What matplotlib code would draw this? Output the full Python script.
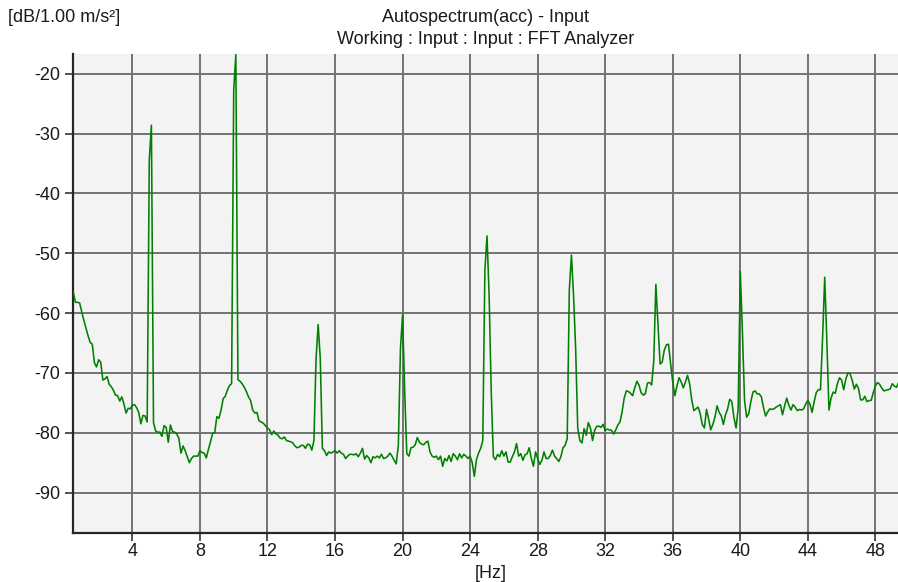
import numpy as np
import matplotlib
matplotlib.use("Agg")
import matplotlib.pyplot as plt

# FFT analyzer autospectrum, 0.125 Hz bins starting at 0.5 Hz
freq_start_hz = 0.5
freq_step_hz = 0.125

# one row per Hz (first and last rows are partial)
level_db = [
    -56.5, -58.2, -58.2, -58.3,
    -59.8, -61.2, -62.5, -63.8, -64.9, -65.2, -68.3, -69.0,
    -67.8, -68.2, -71.2, -71.0, -70.6, -71.9, -72.3, -72.9,
    -73.7, -73.8, -74.7, -74.0, -75.2, -76.7, -75.9, -76.0,
    -75.4, -75.3, -75.8, -76.6, -78.5, -77.1, -77.2, -78.2,
    -34.4, -28.6, -78.3, -79.7, -79.9, -79.9, -80.6, -78.8,
    -79.1, -81.6, -78.7, -79.8, -79.9, -80.2, -80.9, -83.4,
    -82.2, -83.0, -84.0, -85.0, -84.3, -83.9, -83.9, -83.9,
    -83.0, -83.3, -83.4, -84.2, -82.8, -81.5, -80.1, -80.0,
    -77.3, -77.6, -76.2, -74.3, -73.9, -72.9, -72.1, -71.8,
    -22.7, -16.8, -71.1, -71.4, -71.8, -72.4, -73.1, -74.0,
    -74.6, -76.2, -76.7, -76.6, -78.0, -78.2, -78.4, -78.8,
    -79.2, -79.5, -80.3, -79.7, -80.2, -80.4, -80.9, -81.0,
    -80.7, -81.3, -81.4, -81.5, -81.7, -82.2, -82.5, -82.4,
    -82.1, -82.1, -82.6, -81.9, -82.0, -82.9, -81.3, -67.8,
    -61.9, -67.5, -82.6, -83.0, -83.8, -83.2, -83.4, -83.2,
    -83.0, -83.4, -83.0, -83.4, -83.6, -84.3, -83.9, -83.6,
    -83.6, -83.7, -83.5, -84.0, -83.4, -82.6, -84.4, -83.8,
    -84.2, -85.0, -84.0, -84.2, -83.9, -84.2, -83.6, -84.3,
    -84.2, -83.9, -83.4, -83.9, -84.6, -85.2, -82.0, -65.9,
    -60.3, -73.0, -83.5, -83.9, -82.5, -82.4, -82.0, -80.8,
    -81.6, -81.9, -82.0, -81.6, -81.4, -83.2, -83.9, -84.1,
    -83.9, -84.5, -83.9, -85.6, -84.3, -84.7, -83.8, -84.8,
    -83.5, -83.9, -84.5, -83.5, -84.2, -83.6, -83.9, -84.3,
    -83.9, -85.0, -87.3, -84.5, -83.4, -82.6, -81.3, -52.8,
    -47.1, -57.0, -73.0, -84.0, -84.5, -83.6, -84.0, -83.0,
    -83.9, -83.2, -84.9, -84.9, -84.0, -83.2, -81.8, -83.9,
    -83.5, -84.6, -83.7, -83.5, -82.5, -84.3, -85.6, -83.2,
    -84.3, -85.3, -84.6, -83.2, -84.3, -84.3, -83.8, -82.9,
    -83.9, -84.3, -84.8, -84.0, -82.5, -82.1, -81.0, -56.1,
    -50.3, -57.0, -66.0, -79.3, -81.3, -81.7, -79.3, -80.4,
    -78.3, -79.2, -81.3, -79.6, -78.9, -78.9, -79.1, -78.6,
    -79.6, -79.4, -79.5, -79.6, -80.2, -79.5, -78.7, -78.2,
    -76.5, -74.2, -73.0, -73.1, -73.4, -73.8, -72.5, -71.4,
    -72.0, -73.3, -73.7, -73.5, -71.7, -71.6, -72.0, -68.0,
    -55.2, -62.0, -68.5, -68.2, -66.2, -65.3, -65.2, -68.5,
    -71.5, -73.8, -72.2, -70.8, -71.5, -72.5, -71.5, -70.4,
    -71.8, -74.5, -76.3, -76.0, -75.7, -76.8, -78.6, -79.2,
    -76.1, -77.7, -79.5, -78.6, -77.4, -75.5, -76.6, -77.2,
    -78.6, -77.0, -76.0, -74.4, -74.8, -77.5, -79.2, -76.0,
    -53.0, -63.0, -74.5, -77.4, -76.8, -74.8, -73.2, -73.0,
    -73.5, -73.5, -74.0, -75.8, -77.2, -76.5, -76.0, -76.1,
    -76.0, -75.7, -75.5, -75.3, -77.0, -75.5, -74.2, -75.4,
    -76.2, -75.3, -75.7, -76.3, -76.1, -76.2, -76.0, -75.2,
    -74.6, -75.2, -76.6, -74.8, -73.3, -72.8, -72.8, -64.0,
    -54.0, -64.5, -76.2, -74.2, -73.2, -73.4, -71.8, -70.8,
    -71.2, -72.8, -71.0, -70.0, -70.1, -71.2, -72.7, -71.9,
    -72.6, -74.5, -74.5, -73.9, -74.8, -74.6, -74.6, -73.3,
    -72.2, -71.6, -71.9, -72.5, -73.0, -72.9, -72.8, -72.7,
    -71.8, -72.2, -72.4, -71.6,
]

x_ticks = [4, 8, 12, 16, 20, 24, 28, 32, 36, 40, 44, 48]
y_ticks = [-90, -80, -70, -60, -50, -40, -30, -20]

title_lines = ["Autospectrum(acc) - Input", "Working : Input : Input : FFT Analyzer"]
y_unit = "[dB/1.00 m/s\u00b2]"
x_unit = "[Hz]"

plt.rcParams["font.family"] = ["Liberation Sans", "DejaVu Sans"]
plt.rcParams["axes.unicode_minus"] = False

freq = freq_start_hz + freq_step_hz * np.arange(len(level_db))

W, H = 898, 582
fig = plt.figure(figsize=(W / 100, H / 100), dpi=100, facecolor="white")
left, right, top, bottom = 73.3, 898, 54, 532.7
ax = fig.add_axes([left / W, 1 - bottom / H, (right - left) / W, (bottom - top) / H])
ax.set_facecolor("#f3f3f3")

ax.plot(freq, level_db, color="#008000", lw=1.15, zorder=3)

ax.set_xlim(0.5, 49.34)
ax.set_ylim(-96.7, -16.7)
ax.set_xticks(x_ticks)
ax.set_yticks(y_ticks)
ax.grid(True, color="#727272", lw=1.4)
ax.set_axisbelow(True)

for s in ("top", "right"):
    ax.spines[s].set_visible(False)
for s in ("left", "bottom"):
    ax.spines[s].set_color("#262626")
    ax.spines[s].set_linewidth(1.6)

ax.tick_params(axis="both", direction="out", length=6, width=1.2, color="#333333",
               labelsize=13, labelcolor="#1a1a1a")
ax.tick_params(axis="y", pad=3.5)
ax.tick_params(axis="x", pad=1.5)

cx = (left + right) / 2 / W
fig.text(cx, 1 - 18 / H, title_lines[0], ha="center", va="center", fontsize=13, color="#1a1a1a")
fig.text(cx, 1 - 40 / H, title_lines[1], ha="center", va="center", fontsize=13, color="#1a1a1a")
fig.text(8 / W, 1 - 18 / H, y_unit, ha="left", va="center", fontsize=13, color="#1a1a1a")
fig.text(491 / W, 1 - 573 / H, x_unit, ha="center", va="center", fontsize=13, color="#1a1a1a")

fig.savefig("out.png", dpi=100, facecolor="white")
